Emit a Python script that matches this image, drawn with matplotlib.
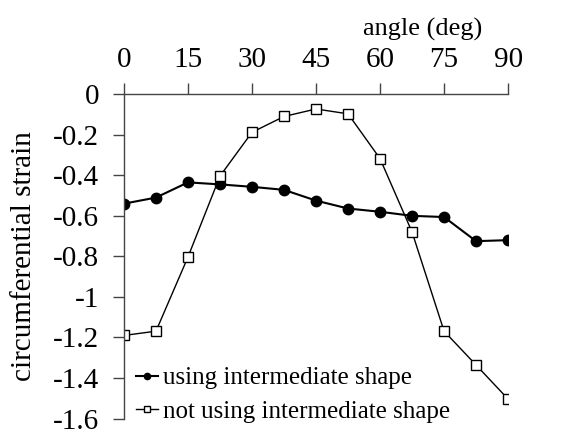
import matplotlib.pyplot as plt

plt.rcParams['font.family'] = ['Liberation Serif', 'DejaVu Serif']

# angle values (deg)
angles = [0, 7.5, 15, 22.5, 30, 37.5, 45, 52.5, 60, 67.5, 75, 82.5, 90]
# circumferential strain
with_shape = [-0.54, -0.51, -0.435, -0.445, -0.457, -0.472, -0.525, -0.564,
              -0.58, -0.60, -0.606, -0.725, -0.72]
without_shape = [-1.19, -1.169, -0.803, -0.404, -0.188, -0.11, -0.073, -0.097,
                 -0.318, -0.68, -1.169, -1.336, -1.504]

x_ticks = [0, 15, 30, 45, 60, 75, 90]
y_ticks = [0, -0.2, -0.4, -0.6, -0.8, -1, -1.2, -1.4, -1.6]
y_tick_labels = ['0', '-0.2', '-0.4', '-0.6', '-0.8', '-1', '-1.2', '-1.4', '-1.6']

fig = plt.figure(figsize=(5.82, 4.36), dpi=100)
ax = fig.add_axes([0.213, 0.040, 0.660, 0.744])

ax.plot(angles, with_shape, color='black', linewidth=1.5, marker='o',
        markersize=7.5, label='using intermediate shape')
ax.plot(angles, without_shape, color='black', linewidth=1.0, marker='s',
        markersize=6.5, markerfacecolor='white', markeredgewidth=1.0,
        label='not using intermediate shape')

ax.set_xlim(0, 90)
ax.set_ylim(-1.6, 0)
ax.set_xticks(x_ticks)
ax.set_yticks(y_ticks)
ax.set_yticklabels(y_tick_labels)

ax.xaxis.tick_top()
ax.xaxis.set_label_position('top')
ax.set_xlabel('angle (deg)', fontsize=19, loc='right')
ax.xaxis.set_label_coords(0.932, 1.18)
ax.set_ylabel('circumferential strain', fontsize=21, labelpad=11)

for side in ['right', 'bottom']:
    ax.spines[side].set_visible(False)
for side in ['left', 'top']:
    ax.spines[side].set_color('#444444')
    ax.spines[side].set_linewidth(1.0)

ax.tick_params(axis='both', labelsize=21, direction='out', length=8,
               width=1.0, color='#444444')
ax.tick_params(axis='x', pad=7)
ax.tick_params(axis='y', pad=10)

ax.legend(loc='lower left', frameon=False, fontsize=18, handlelength=0.9,
          handletextpad=0.2, borderpad=0.1, labelspacing=0.45,
          markerscale=0.6, bbox_to_anchor=(-0.009, -0.06))

fig.savefig('out.png', dpi=100)
